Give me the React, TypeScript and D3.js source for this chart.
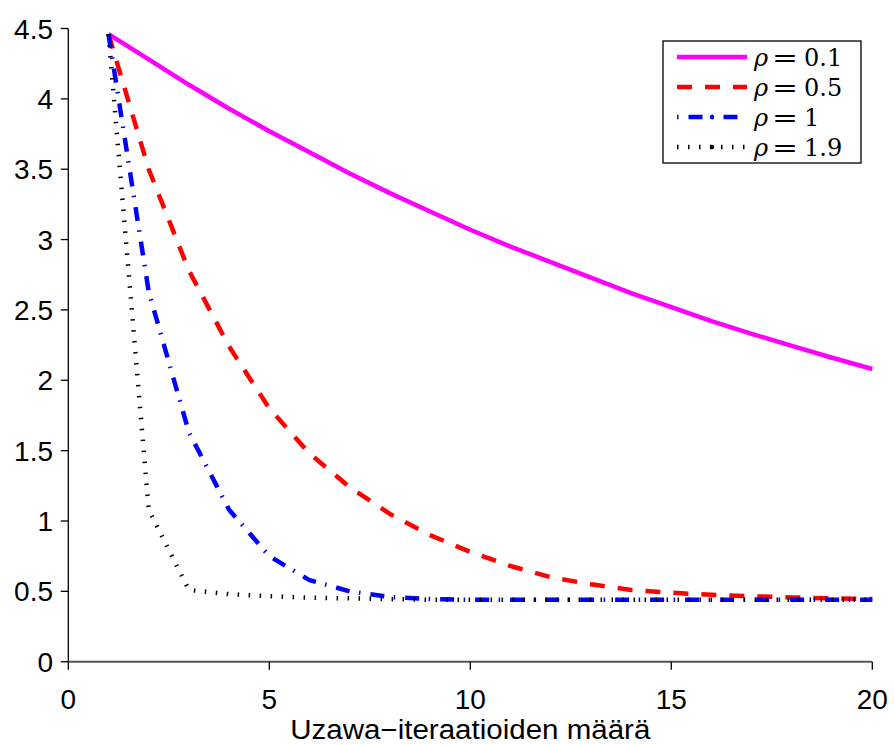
import { useEffect, useRef } from "react";
import * as d3 from "d3";

// Uzawa iterations 1..20
const iterations = [1, 2, 3, 4, 5, 6, 7, 8, 9, 10, 11, 12, 13, 14, 15, 16, 17, 18, 19, 20];

const rho01 = [4.46, 4.28, 4.1, 3.93, 3.77, 3.62, 3.47, 3.33, 3.2, 3.07, 2.95, 2.84, 2.73, 2.62, 2.52, 2.42, 2.33, 2.245, 2.16, 2.08];
const rho05 = [4.46, 3.5, 2.78, 2.24, 1.8, 1.48, 1.24, 1.05, 0.9, 0.78, 0.68, 0.6, 0.55, 0.51, 0.49, 0.475, 0.465, 0.457, 0.45, 0.445];
const rho1 = [4.46, 2.63, 1.63, 1.08, 0.75, 0.58, 0.5, 0.46, 0.445, 0.44, 0.44, 0.44, 0.44, 0.44, 0.44, 0.44, 0.44, 0.44, 0.44, 0.44];
const rho19 = [4.46, 1.08, 0.51, 0.48, 0.465, 0.455, 0.45, 0.445, 0.44, 0.44, 0.44, 0.44, 0.44, 0.44, 0.44, 0.44, 0.44, 0.44, 0.44, 0.44];

const xTicks = [0, 5, 10, 15, 20];
const yTicks = [0, 0.5, 1, 1.5, 2, 2.5, 3, 3.5, 4, 4.5];

const seriesNames = ["0.1", "0.5", "1", "1.9"];

const styles = [
  { color: "#ff00ff", dash: null },
  { color: "#ff0000", dash: "15,13" },
  { color: "#0000ff", dash: "14,9.5,1.5,10" },
  { color: "#000000", dash: "1.5,9.5" },
];

export default function App() {
  const svgRef = useRef<SVGSVGElement | null>(null);

  useEffect(() => {
    const width = 894;
    const height = 745;
    const svg = d3.select(svgRef.current);
    svg.attr("viewBox", `0 0 ${width} ${height}`);
    svg.selectAll("*").remove();

    const x = d3.scaleLinear().domain([0, 20]).range([68.3, 872.3]);
    const y = d3.scaleLinear().domain([0, 4.5]).range([661.7, 28.5]);

    const font = "'Liberation Sans', Arial, sans-serif";
    const fontSize = 28;

    // y axis
    const yAxis = svg.append("g");
    yAxis
      .append("line")
      .attr("x1", x(0))
      .attr("x2", x(0))
      .attr("y1", y(4.5))
      .attr("y2", y(0))
      .attr("stroke", "#000")
      .attr("stroke-width", 1.3);
    yTicks.forEach((t) => {
      yAxis
        .append("line")
        .attr("x1", x(0) - 7.5)
        .attr("x2", x(0))
        .attr("y1", y(t))
        .attr("y2", y(t))
        .attr("stroke", "#000")
        .attr("stroke-width", 1.3);
      yAxis
        .append("text")
        .attr("x", 53)
        .attr("y", y(t) + 10)
        .attr("text-anchor", "end")
        .attr("font-family", font)
        .attr("font-size", fontSize)
        .text(String(t));
    });

    // x axis
    const xAxis = svg.append("g");
    xAxis
      .append("line")
      .attr("x1", x(0))
      .attr("x2", x(20))
      .attr("y1", y(0))
      .attr("y2", y(0))
      .attr("stroke", "#555")
      .attr("stroke-width", 2);
    xTicks.forEach((t) => {
      xAxis
        .append("line")
        .attr("x1", x(t))
        .attr("x2", x(t))
        .attr("y1", y(0))
        .attr("y2", y(0) + 8)
        .attr("stroke", "#000")
        .attr("stroke-width", 1.3);
      xAxis
        .append("text")
        .attr("x", x(t))
        .attr("y", 708.5)
        .attr("text-anchor", "middle")
        .attr("font-family", font)
        .attr("font-size", fontSize)
        .text(String(t));
    });

    svg
      .append("text")
      .attr("x", (x(0) + x(20)) / 2)
      .attr("y", 739)
      .attr("text-anchor", "middle")
      .attr("font-family", font)
      .attr("font-size", 27)
      .attr("textLength", 360)
      .attr("lengthAdjust", "spacingAndGlyphs")
      .text("Uzawa\u2212iteraatioiden määrä");

    // curves
    const allSeries = [rho01, rho05, rho1, rho19];
    const line = d3
      .line<number>()
      .x((_, i) => x(iterations[i]))
      .y((d) => y(d));

    allSeries.forEach((values, i) => {
      const p = svg
        .append("path")
        .datum(values)
        .attr("d", line)
        .attr("fill", "none")
        .attr("stroke", styles[i].color)
        .attr("stroke-width", 4.5)
        .attr("stroke-linejoin", "round");
      if (styles[i].dash) p.attr("stroke-dasharray", styles[i].dash);
    });

    // legend
    const legend = svg.append("g");
    legend
      .append("rect")
      .attr("x", 663)
      .attr("y", 41)
      .attr("width", 198)
      .attr("height", 122)
      .attr("fill", "#fff")
      .attr("stroke", "#000")
      .attr("stroke-width", 1.3);

    const rowY = [57, 87, 117, 147];
    const offsets = [0, 0, 23.5, 0];
    const serif = "'DejaVu Serif', serif";
    seriesNames.forEach((name, i) => {
      const ly = rowY[i];
      const l = legend
        .append("line")
        .attr("x1", 677)
        .attr("x2", 747)
        .attr("y1", ly)
        .attr("y2", ly)
        .attr("stroke", styles[i].color)
        .attr("stroke-width", 4.5);
      if (styles[i].dash) {
        l.attr("stroke-dasharray", styles[i].dash).attr("stroke-dashoffset", offsets[i]);
      }
      if (i >= 2) {
        legend
          .append("circle")
          .attr("cx", 712)
          .attr("cy", ly)
          .attr("r", 2.3)
          .attr("fill", styles[i].color);
      }
      legend
        .append("text")
        .attr("x", 754)
        .attr("y", ly + 8.5)
        .attr("font-family", serif)
        .attr("font-size", 24)
        .attr("font-style", "italic")
        .text("\u03c1");
      legend
        .append("text")
        .attr("x", 772)
        .attr("y", ly + 8.5)
        .attr("font-family", serif)
        .attr("font-size", 24)
        .attr("textLength", 26)
        .attr("lengthAdjust", "spacingAndGlyphs")
        .text("=");
      legend
        .append("text")
        .attr("x", 804)
        .attr("y", ly + 8.5)
        .attr("font-family", serif)
        .attr("font-size", 24)
        .text(name);
    });
  }, []);

  return (
    <svg
      ref={svgRef}
      width={894}
      height={745}
      style={{ position: "absolute", left: 0, top: 0, background: "#fff" }}
    />
  );
}
